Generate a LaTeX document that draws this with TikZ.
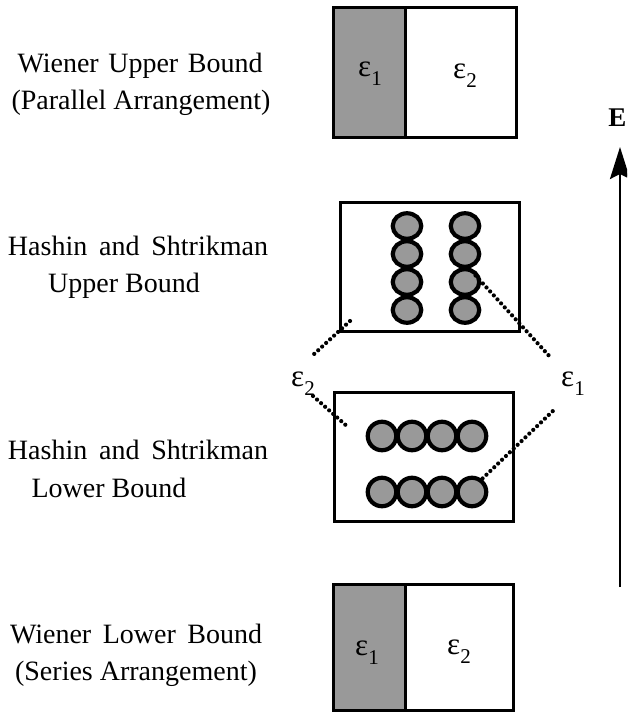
\documentclass[tikz,border=0pt]{standalone}
\usepackage{fontspec}
\setmainfont{Liberation Serif}
\usetikzlibrary{arrows.meta,shapes.geometric}
% epsilon with a numeric subscript
\newcommand\epsn[1]{ε\raisebox{-0.28em}{\fontsize{21}{21}\selectfont #1}}
\begin{document}
\begin{tikzpicture}[x=1pt,y=-1pt,
  frame/.style={draw=black,line width=3pt,rectangle,inner sep=0pt},
  grainy/.style={fill=black!40},
  grain/.style={draw=black,line width=4.2pt,fill=black!40,ellipse,inner sep=0pt},
  upgrain/.style={grain,minimum width=28.5pt,minimum height=25.5pt},
  lowgrain/.style={grain,minimum width=28.5pt,minimum height=28.5pt},
  lbl/.style={font=\fontsize{28}{32}\selectfont,anchor=base,inner sep=0pt},
  eps/.style={font=\fontsize{31}{34}\selectfont,inner sep=0pt},
  dotline/.style={line width=4.2pt,line cap=round,dash pattern=on 0pt off 5.4pt},
  axis/.style={line width=2.6pt,-{Stealth[length=32pt,width=20pt,inset=5pt]}}]
\useasboundingbox (0,0) rectangle (627,717);
\clip (0,0) rectangle (627,717);

% ---- left-hand captions ----
\node[lbl] (wu1) at (140,72) {\makebox[245pt][s]{Wiener Upper Bound}};
\node[lbl] (wu2) at (141,109) {(Parallel Arrangement)};
\node[lbl] (hu1) at (138,255) {\makebox[260pt][s]{Hashin and Shtrikman}};
\node[lbl] (hu2) at (124,292) {Upper Bound};
\node[lbl] (hl1) at (138,459) {\makebox[260pt][s]{Hashin and Shtrikman}};
\node[lbl] (hl2) at (109,497) {Lower Bound};
\node[lbl] (wl1) at (136,643) {\makebox[252pt][s]{Wiener Lower Bound}};
\node[lbl] (wl2) at (136,680) {(Series Arrangement)};

% ---- Wiener upper bound: parallel layers ----
\fill[grainy] (333,8) rectangle (405,137);
\node[frame,minimum width=183pt,minimum height=129pt] (wub) at (424.5,72.5) {};
\draw[line width=3pt] (405,8) -- (405,137);
\node[eps] (wube1) at (370,74) {\epsn{1}};
\node[eps] (wube2) at (465,76) {\epsn{2}};

% ---- Hashin-Shtrikman upper bound: vertical chains ----
\node[frame,minimum width=179pt,minimum height=129pt] (hsu) at (429.5,266.5) {};
\foreach \c/\x in {a/407,b/465}
  \foreach \r/\y in {1/226,2/254,3/282,4/310}
    \node[upgrain] (u\c\r) at (\x,\y) {};

% ---- Hashin-Shtrikman lower bound: horizontal chains ----
\node[frame,minimum width=179pt,minimum height=129pt] (hsl) at (423.5,456.5) {};
\foreach \r/\y in {1/436,2/492}
  \foreach \c/\x in {a/382,b/412,c/442,d/472}
    \node[lowgrain] (l\c\r) at (\x,\y) {};

% ---- phase labels between the two middle cells ----
\node[eps] (mide2) at (303,384) {\epsn{2}};
\node[eps] (mide1) at (573,384) {\epsn{1}};

\coordinate (pu2a) at (350,321);
\coordinate (pu2b) at (313,355);
\coordinate (pl2a) at (313,396);
\coordinate (pl2b) at (349,428);
\coordinate (pu1b) at (552,359);
\coordinate (pl1b) at (556,408);
\draw[dotline] (pu2a) -- (pu2b);
\draw[dotline] (pl2a) -- (pl2b);
\draw[dotline] (ub3.north east) ++(-1,4) coordinate (pu1a) -- (pu1b);
\draw[dotline] (ld2.north east) ++(-1,-2) coordinate (pl1a) -- (pl1b);

% ---- Wiener lower bound: series layers ----
\fill[grainy] (333,584) rectangle (405,710);
\node[frame,minimum width=180pt,minimum height=126pt] (wlb) at (423,647) {};
\draw[line width=3pt] (405,584) -- (405,710);
\node[eps] (wlbe1) at (367,653) {\epsn{1}};
\node[eps] (wlbe2) at (459,652) {\epsn{2}};

% ---- permittivity axis ----
\coordinate (axlo) at (620,587);
\coordinate (axhi) at (620,147);
\draw[axis] (axlo) -- (axhi);
\node[font=\fontsize{27}{32}\selectfont\bfseries,anchor=east,inner sep=0pt] (axlbl) at (626.5,118) {E};
\end{tikzpicture}
\end{document}
